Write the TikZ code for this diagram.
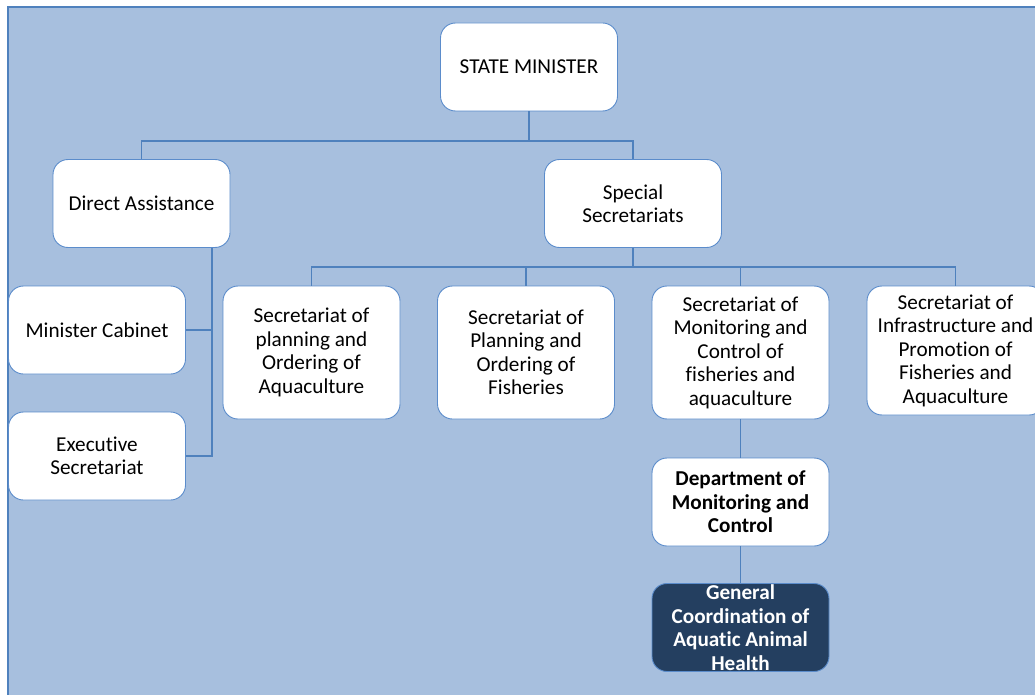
\documentclass[tikz,border=0pt]{standalone}
\usepackage{fontspec}
\setmainfont{Carlito}[Ligatures={NoCommon,NoContextual}]
\definecolor{pagebg}{HTML}{A7BFDE}
\definecolor{frameblue}{HTML}{4F81BD}
\definecolor{boxline}{HTML}{5B8CCB}
\definecolor{linkblue}{HTML}{4F81BD}
\definecolor{navy}{HTML}{243F60}
\begin{document}
\begin{tikzpicture}[x=1pt,y=-1pt,
  box/.style={draw=boxline, fill=white, line width=0.9pt, rounded corners=15pt,
    minimum width=177pt, minimum height=88pt, align=center, inner sep=0pt,
    font=\fontsize{21.2}{23.5}\selectfont},
  tallbox/.style={box, minimum height=133pt},
  boldbox/.style={box, font=\fontsize{21.2}{23.5}\selectfont\bfseries},
  link/.style={draw=linkblue, line width=1.1pt}]
\useasboundingbox (0,0) rectangle (1035,695);

% panel behind the chart
\fill[pagebg] (8,7) rectangle (1060,720);
\draw[frameblue, line width=2pt] (8,7) rectangle (1060,720);

% boxes
\node[box] (sm) at (529,67) {STATE MINISTER};
\node[box] (da) at (141.5,203.5) {Direct Assistance};
\node[box] (ss) at (633,203.5) {Special\\Secretariats};
\node[box] (mc) at (97,330) {Minister Cabinet};
\node[box] (es) at (97,456) {Executive\\Secretariat};
\node[tallbox] (spa) at (311.5,352.5) {Secretariat of\\planning and\\Ordering of\\Aquaculture};
\node[tallbox] (spf) at (526,352.5) {Secretariat of\\Planning and\\Ordering of\\Fisheries};
\node[tallbox] (smc) at (740.5,352.5) {Secretariat of\\Monitoring and\\Control of\\fisheries and\\aquaculture};
\node[box, minimum height=129pt] (sip) at (955.5,350.5) {Secretariat of\\Infrastructure and\\Promotion of\\Fisheries and\\Aquaculture};
\node[boldbox] (dmc) at (740.5,502) {Department of\\Monitoring and\\Control};
\node[boldbox, fill=navy, text=white] (gc) at (740.5,627.5) {General\\Coordination of\\Aquatic Animal\\Health};

% connectors
\coordinate (bar1) at (0,141);
\coordinate (bar2) at (0,267);
\coordinate (trunk) at (212,0);
\draw[link] (sm.south) -- (sm.south |- bar1);
\draw[link] (da.north) -- (da.north |- bar1) -| (ss.north);
\draw[link] (da.south -| trunk) -- (es.east -| trunk) -- (es.east);
\draw[link] (mc.east) -- (mc.east -| trunk);
\draw[link] (ss.south) -- (ss.south |- bar2);
\draw[link] (spa.north) -- (spa.north |- bar2) -| (sip.north);
\draw[link] (spf.north) -- (spf.north |- bar2);
\draw[link] (smc.north) -- (smc.north |- bar2);
\draw[link] (smc.south) -- (dmc.north);
\draw[link] (dmc.south) -- (gc.north);
\end{tikzpicture}
\end{document}
